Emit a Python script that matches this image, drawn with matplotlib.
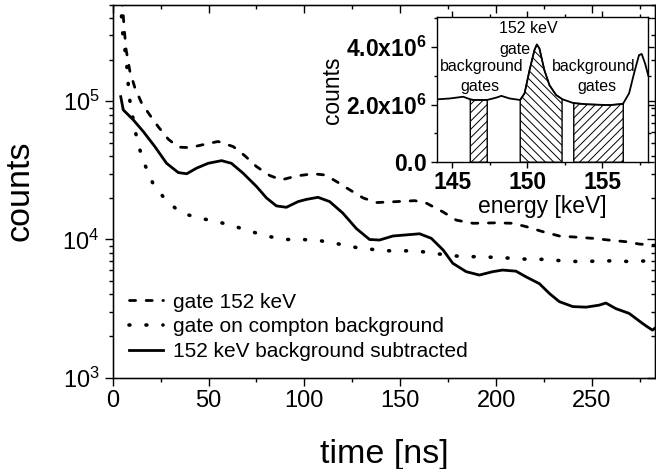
"""Time spectra with gate / background inset (log counts vs time)."""

import matplotlib
matplotlib.use("Agg")
import matplotlib.pyplot as plt
from matplotlib.ticker import MultipleLocator, LogLocator, NullFormatter, FixedLocator
import numpy as np

plt.rcParams["font.family"] = ["Liberation Sans", "DejaVu Sans"]
plt.rcParams["mathtext.fontset"] = "custom"
plt.rcParams["mathtext.rm"] = "Liberation Sans"
plt.rcParams["mathtext.bf"] = "Liberation Sans:bold"
plt.rcParams["mathtext.it"] = "Liberation Sans:italic"
plt.rcParams["hatch.linewidth"] = 0.7

# main panel: time [ns] vs counts
gate_t = [5.0, 5.2, 5.9, 7.0, 9.0, 11.6, 15.1, 19.4, 23.7, 29.0, 34.2, 40.3, 49.0, 55.0,
          62.9, 69.0, 75.0, 82.0, 88.0, 95.8, 104.5, 110.7, 116.7, 123.6, 130.6, 137.5,
          148.0, 157.6, 163.7, 172.4, 179.3, 188.0, 200.0, 208.7, 215.6, 224.3, 233.0,
          241.7, 250.3, 259.0, 267.7, 274.7, 283.0]
gate_counts = [562000, 486000, 348000, 236000, 164000, 125000, 97000, 79400, 65600, 53200,
               46600, 46200, 49200, 51200, 47000, 40300, 33700, 29000, 27000, 28800, 29900,
               29300, 26300, 22900, 20000, 18500, 18800, 19100, 18300, 15800, 13800, 13100,
               13200, 13100, 12400, 11400, 10600, 10400, 10200, 9900, 9640, 9270, 9080]

compton_t = [4.3, 4.8, 7.2, 8.6, 11.6, 13.9, 16.8, 20.8, 27.6, 35.6, 45.0, 54.2, 63.2, 72.4,
             81.6, 90.6, 99.3, 108.8, 118.0, 126.7, 135.7, 144.5, 154.0, 162.8, 171.9,
             181.0, 190.4, 199.1, 208.7, 217.4, 226.0, 235.6, 244.3, 253.0, 261.6, 270.3,
             279.0, 283.0]
compton_counts = [562000, 347000, 194000, 108000, 62100, 45700, 34700, 25800, 19300, 15600,
                  14300, 13500, 12500, 11400, 10500, 10000, 10000, 9770, 9270, 8770, 8470,
                  8280, 8280, 8130, 7800, 7550, 7500, 7430, 7310, 7180, 7190, 6980, 6920,
                  6980, 7010, 6920, 7010, 7000]

sub_t = [4.2, 5.5, 10.7, 16.0, 22.0, 28.1, 34.2, 38.6, 43.7, 49.8, 56.8, 61.9, 68.0, 75.0,
         80.2, 85.4, 90.6, 96.7, 101.0, 107.1, 113.2, 120.1, 127.1, 134.0, 139.2, 146.2,
         153.2, 160.1, 166.2, 172.4, 177.4, 184.4, 191.3, 198.2, 203.4, 210.4, 215.6,
         222.6, 227.8, 233.0, 240.0, 247.0, 253.8, 257.3, 262.5, 269.4, 276.4, 279.0,
         281.6, 283.0]
sub_counts = [108000, 86700, 73500, 60300, 47000, 35600, 30500, 29900, 32800, 35600, 37200,
              35600, 30200, 24200, 20000, 17500, 17100, 18800, 19500, 20200, 18800, 15500,
              12000, 10000, 9910, 10600, 10800, 11000, 10200, 8390, 6730, 5850, 5530, 5850,
              6010, 5900, 5370, 4790, 4070, 3550, 3270, 3240, 3350, 3470, 3160, 2920, 2470,
              2330, 2210, 2290]

legend_labels = ["gate 152 keV", "gate on compton background", "152 keV background subtracted"]

# inset: energy spectrum with gates
spec_e = [144.0, 144.84, 145.73, 146.2, 146.39, 147.28, 147.33, 147.94, 148.27, 148.82,
          149.49, 149.53, 149.82, 150.15, 150.48, 150.64, 150.81, 151.14, 151.48, 151.92,
          152.32, 152.36, 153.02, 153.1, 153.91, 155.46, 156.34, 156.4, 156.79, 157.12,
          157.45, 157.63, 157.85, 158.07]
spec_counts = [2.18e6, 2.21e6, 2.27e6, 2.18e6, 2.16e6, 2.16e6, 2.16e6, 2.24e6, 2.30e6, 2.21e6,
               2.16e6, 2.16e6, 2.39e6, 3.19e6, 3.89e6, 4.08e6, 3.94e6, 3.19e6, 2.67e6, 2.33e6,
               2.19e6, 2.18e6, 2.06e6, 2.05e6, 2.01e6, 1.98e6, 2.02e6, 2.04e6, 2.39e6, 3.08e6,
               3.71e6, 3.75e6, 3.43e6, 3.00e6]
bg_gates = [(146.2, 147.33), (153.1, 156.4)]
peak_gate = (149.53, 152.32)
inset_yticks = [0, 2e6, 4e6]
inset_yticklabels = [r"$\mathbf{0.0}$", r"$\mathbf{2.0x10^{6}}$", r"$\mathbf{4.0x10^{6}}$"]

W, H = 656, 469
fig = plt.figure(figsize=(W / 100, H / 100), dpi=100)
ax = fig.add_axes([112.7 / W, 1 - 377.7 / H, (655 - 112.7) / W, (377.7 - 4.7) / H])

ax.plot(gate_t, gate_counts, color="black", lw=2.0,
        linestyle=(0, (2.2, 3.8)), dash_capstyle="round", label=legend_labels[0])
ax.plot(compton_t, compton_counts, color="black", lw=2.6,
        linestyle=(0, (0.25, 4.45)), dash_capstyle="round", label=legend_labels[1])
ax.plot(sub_t, sub_counts, color="black", lw=2.0, label=legend_labels[2])

ax.set_yscale("log")
ax.set_xlim(0, 282.9)
ax.set_ylim(1e3, 5e5)
ax.xaxis.set_major_locator(MultipleLocator(50))
ax.xaxis.set_minor_locator(MultipleLocator(25))
ax.yaxis.set_major_locator(LogLocator(base=10, numticks=10))
ax.yaxis.set_minor_locator(LogLocator(base=10, subs=np.arange(2, 10), numticks=20))
ax.yaxis.set_minor_formatter(NullFormatter())
ax.tick_params(which="both", direction="out", labelsize=17, width=1)
ax.tick_params(which="major", length=5.5)
ax.tick_params(which="minor", length=3)
ax.tick_params(axis="x", pad=3)
ax.tick_params(axis="y", pad=4)
for sp in ax.spines.values():
    sp.set_linewidth(1.0)

ax.set_xlabel("time [ns]", fontsize=24.5, labelpad=20)
ax.set_ylabel("counts", fontsize=24.5, labelpad=19)

# mirrored ticks pointing inward on top / right
top = ax.twiny()
top.set_xlim(ax.get_xlim())
top.xaxis.set_major_locator(MultipleLocator(50))
top.xaxis.set_minor_locator(MultipleLocator(25))
top.tick_params(axis="x", which="both", direction="in", labeltop=False, width=1)
top.tick_params(axis="x", which="major", length=5.5)
top.tick_params(axis="x", which="minor", length=3)
right = ax.twinx()
right.set_yscale("log")
right.set_ylim(ax.get_ylim())
right.yaxis.set_major_locator(LogLocator(base=10, numticks=10))
right.yaxis.set_minor_locator(LogLocator(base=10, subs=np.arange(2, 10), numticks=20))
right.tick_params(axis="y", which="both", direction="in", labelright=False, width=1)
right.tick_params(axis="y", which="major", length=5.5)
right.tick_params(axis="y", which="minor", length=3)

ax.legend(loc="lower left", bbox_to_anchor=(0.03, 0.045), frameon=False, fontsize=15,
          handlelength=1.65, handletextpad=0.45, labelspacing=0.27, borderpad=0,
          borderaxespad=0)

# inset
axin = fig.add_axes([437.3 / W, 1 - 162.3 / H, (648.3 - 437.3) / W, (162.3 - 17.3) / H])
e = np.array(spec_e)
c = np.array(spec_counts)
for lo, hi in bg_gates:
    axin.fill_between(e, 0, c, where=(e >= lo) & (e <= hi), facecolor="white",
                      edgecolor="black", hatch="////", lw=1.0)
axin.fill_between(e, 0, c, where=(e >= peak_gate[0]) & (e <= peak_gate[1]),
                  facecolor="white", edgecolor="black", hatch="\\\\\\\\", lw=1.0)
axin.plot(e, c, color="black", lw=1.3)

axin.set_xlim(144, 158.07)
axin.set_ylim(0, 5.02e6)
axin.xaxis.set_major_locator(MultipleLocator(5))
axin.xaxis.set_minor_locator(MultipleLocator(2.5))
axin.yaxis.set_major_locator(FixedLocator(inset_yticks))
axin.yaxis.set_minor_locator(MultipleLocator(1e6))
axin.set_yticklabels(inset_yticklabels)
for lbl in axin.get_xticklabels():
    lbl.set_fontweight("bold")
axin.tick_params(which="both", direction="out", top=True, right=True, width=1)
axin.tick_params(which="major", length=4.5)
axin.tick_params(which="minor", length=2.5)
axin.tick_params(axis="x", labelsize=16.5, pad=1.5)
axin.tick_params(axis="y", labelsize=16.5, pad=3)
for sp in axin.spines.values():
    sp.set_linewidth(1.0)
axin.set_xlabel("energy [keV]", fontsize=16.5, labelpad=1)
axin.set_ylabel("counts", fontsize=16.4, labelpad=2)

axin.text(150.08, 4.64e6, "152 keV", fontsize=11.5, ha="center", va="center")
axin.text(149.2, 3.91e6, "gate", fontsize=11.5, ha="center", va="center")
axin.text(146.93, 3.31e6, "background", fontsize=11.5, ha="center", va="center")
axin.text(146.83, 2.64e6, "gates", fontsize=11.5, ha="center", va="center")
axin.text(154.4, 3.31e6, "background", fontsize=11.5, ha="center", va="center")
axin.text(154.62, 2.64e6, "gates", fontsize=11.5, ha="center", va="center")

fig.savefig("out.png", dpi=100)
